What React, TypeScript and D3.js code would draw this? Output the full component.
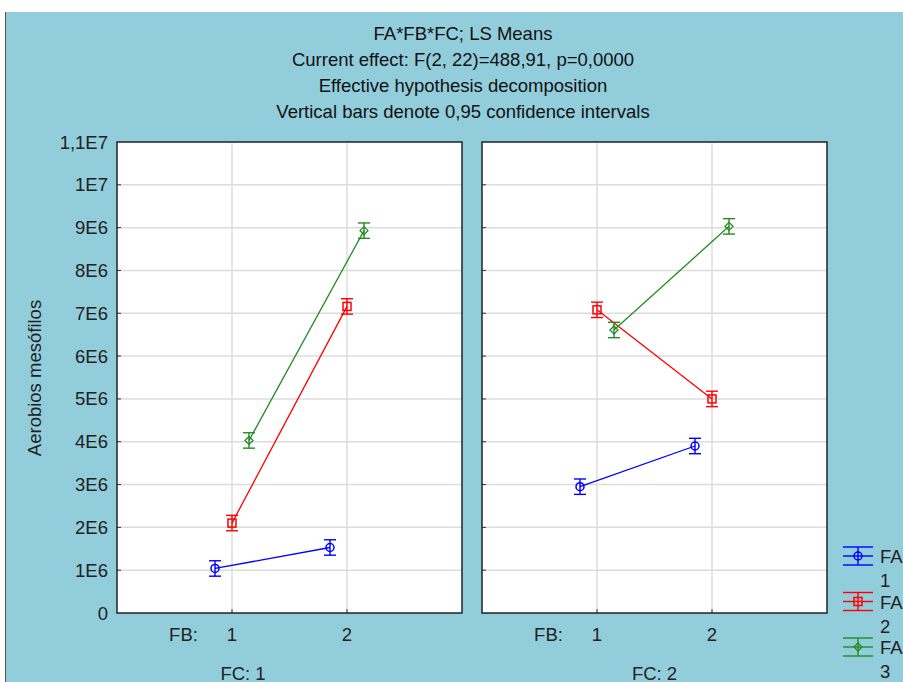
import React from "react";
import * as d3 from "d3";

// chart values
const titleLines = [
  "FA*FB*FC; LS Means",
  "Current effect: F(2, 22)=488,91, p=0,0000",
  "Effective hypothesis decomposition",
  "Vertical bars denote 0,95 confidence intervals",
];
const fcLevels = ["1", "2"];
const fbLevels = [1, 2];
const faLevels = ["1", "2", "3"];
const faColors = ["#0000ff", "#ff0000", "#228b22"];
const yTicks = [0, 1e6, 2e6, 3e6, 4e6, 5e6, 6e6, 7e6, 8e6, 9e6, 1e7, 1.1e7];
const yTickLabels = ["0", "1E6", "2E6", "3E6", "4E6", "5E6", "6E6", "7E6", "8E6", "9E6", "1E7", "1,1E7"];
// means[fc][fa] = [FB1, FB2]
const means = [
  [
    [1.04e6, 1.53e6],
    [2.1e6, 7.16e6],
    [4.03e6, 8.93e6],
  ],
  [
    [2.95e6, 3.9e6],
    [7.08e6, 5.0e6],
    [6.61e6, 9.03e6],
  ],
];
const ciHalf = 0.18e6;

const W = 903, H = 682;
const font = "'Liberation Sans', Arial, sans-serif";
const fs = 18.5;
const panels = [
  { left: 117, right: 462 },
  { left: 482, right: 827 },
];
const top = 142, bottom = 613;
const faOffset = [-17, 0, 17];

const y = d3.scaleLinear().domain([0, 1.1e7]).range([bottom, top]);

function Marker({ i, cx, cy, color }: { i: number; cx: number; cy: number; color: string }) {
  if (i === 0) return <circle cx={cx} cy={cy} r={4} fill="none" stroke={color} strokeWidth={1.5} />;
  if (i === 1)
    return <rect x={cx - 4} y={cy - 4} width={8} height={8} fill="none" stroke={color} strokeWidth={1.5} />;
  return (
    <path
      d={`M${cx},${cy - 4}L${cx + 4},${cy}L${cx},${cy + 4}L${cx - 4},${cy}Z`}
      fill="none"
      stroke={color}
      strokeWidth={1.3}
    />
  );
}

export default function App() {
  return (
    <svg width={W} height={H} style={{ display: "block", position: "absolute", left: 0, top: 0 }}>
      <rect x={0} y={0} width={W} height={H} fill="#ffffff" />
      <rect x={6} y={12} width={W - 6} height={H - 12} fill="#92cddc" />
      <line x1={5.5} y1={12} x2={5.5} y2={H} stroke="#555" strokeWidth={1} />

      {titleLines.map((t, i) => (
        <text key={i} x={463} y={39.5 + i * 26} textAnchor="middle" fontFamily={font} fontSize={fs} fill="#111">
          {t}
        </text>
      ))}

      {/* y axis labels */}
      {yTicks.map((v, i) => (
        <text key={i} x={108} y={y(v) + 6.5} textAnchor="end" fontFamily={font} fontSize={fs} fill="#222">
          {yTickLabels[i]}
        </text>
      ))}
      <text
        transform={`translate(41,378) rotate(-90)`}
        textAnchor="middle"
        fontFamily={font}
        fontSize={fs}
        fill="#222"
      >
        Aerobios mesófilos
      </text>

      {panels.map((p, pi) => {
        const x = d3.scaleLinear().domain([0, 3]).range([p.left, p.right]);
        return (
          <g key={pi}>
            <rect x={p.left} y={top} width={p.right - p.left} height={bottom - top} fill="#fff" />
            {yTicks.slice(1, -1).map((v, i) => (
              <line key={i} x1={p.left} x2={p.right} y1={y(v)} y2={y(v)} stroke="#dcdcdc" strokeWidth={1.5} />
            ))}
            {fbLevels.map((b) => (
              <line key={b} x1={x(b)} x2={x(b)} y1={top} y2={bottom} stroke="#dcdcdc" strokeWidth={1.5} />
            ))}
            {yTicks.slice(1, -1).map((v, i) => (
              <line key={i} x1={p.left} x2={p.left + 4} y1={y(v)} y2={y(v)} stroke="#333" />
            ))}
            {fbLevels.map((b) => (
              <line key={b} x1={x(b)} x2={x(b)} y1={bottom} y2={bottom - 4} stroke="#333" />
            ))}
            <rect
              x={p.left}
              y={top}
              width={p.right - p.left}
              height={bottom - top}
              fill="none"
              stroke="#222"
              strokeWidth={1.5}
            />
            {means[pi].map((vals, fa) => {
              const c = faColors[fa];
              const pts = vals.map((v, bi) => [x(fbLevels[bi]) + faOffset[fa], y(v)] as [number, number]);
              return (
                <g key={fa}>
                  <path d={d3.line()(pts) || ""} fill="none" stroke={c} strokeWidth={1.3} />
                  {pts.map(([cx, cy], bi) => {
                    const v = vals[bi];
                    const y1 = y(v + ciHalf), y2 = y(v - ciHalf);
                    return (
                      <g key={bi} stroke={c} strokeWidth={1.4}>
                        <line x1={cx} x2={cx} y1={y1} y2={y2} />
                        <line x1={cx - 6} x2={cx + 6} y1={y1} y2={y1} />
                        <line x1={cx - 6} x2={cx + 6} y1={y2} y2={y2} />
                        <Marker i={fa} cx={cx} cy={cy} color={c} />
                      </g>
                    );
                  })}
                </g>
              );
            })}
            <text x={x(0.5) + 9} y={641} textAnchor="middle" fontFamily={font} fontSize={fs} fill="#222">
              FB:
            </text>
            {fbLevels.map((b) => (
              <text key={b} x={x(b)} y={641} textAnchor="middle" fontFamily={font} fontSize={fs} fill="#222">
                {b}
              </text>
            ))}
            <text
              x={pi === 0 ? 243 : (p.left + p.right) / 2}
              y={680}
              textAnchor="middle"
              fontFamily={font}
              fontSize={fs}
              fill="#222"
            >
              {`FC: ${fcLevels[pi]}`}
            </text>
          </g>
        );
      })}

      {/* legend */}
      {faLevels.map((l, i) => {
        const cy = 556 + i * 45.5;
        const c = faColors[i];
        return (
          <g key={l}>
            <g stroke={c} strokeWidth={1.4}>
              <line x1={843} x2={873} y1={cy - 9} y2={cy - 9} />
              <line x1={843} x2={873} y1={cy} y2={cy} />
              <line x1={843} x2={873} y1={cy + 9} y2={cy + 9} />
              <line x1={858} x2={858} y1={cy - 9} y2={cy + 9} />
            </g>
            <Marker i={i} cx={858} cy={cy} color={c} />
            <text x={880} y={cy + 7} fontFamily={font} fontSize={fs} fill="#222">
              FA
            </text>
            <text x={880} y={cy + 31} fontFamily={font} fontSize={fs} fill="#222">
              {l}
            </text>
          </g>
        );
      })}
    </svg>
  );
}
